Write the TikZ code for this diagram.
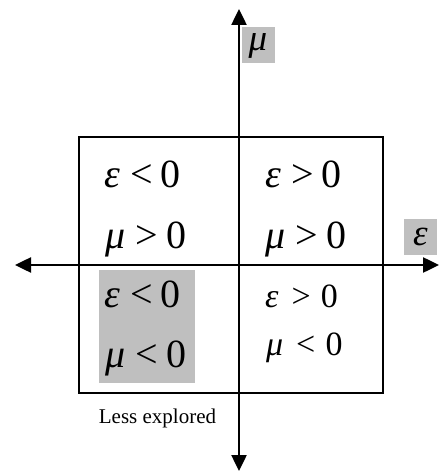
\documentclass[tikz,border=0pt]{standalone}
\usepackage{fontspec}
\setmainfont{Liberation Serif}
\usetikzlibrary{arrows.meta}

\newcommand{\cnd}[3]{\textit{#1}\hspace{0.26em}#2\hspace{0.2em}#3}

\begin{document}
\begin{tikzpicture}[x=1pt, y=-1pt, >={Triangle[length=16pt, width=15pt]},
    cond/.style={anchor=base west, inner sep=0pt, font=\fontsize{40}{46}\selectfont},
    tag/.style={fill=black!25, inner sep=0pt, minimum width=33pt, minimum height=36pt,
                font=\fontsize{37}{40}\selectfont}]
    \useasboundingbox (0,0) rectangle (440,473);
    % shaded quadrant and frame
    \fill[black!25] (99,270) rectangle (195,383);
    \draw[line width=1.5pt] (79,137) rectangle (383,393);
    % axes
    \coordinate (xl) at (15,265);
    \coordinate (xr) at (439,265);
    \coordinate (yt) at (239,9);
    \coordinate (yb) at (239,471);
    \draw[<->, line width=2.5pt] (xl) -- (xr);
    \draw[<->, line width=2.5pt] (yb) -- (yt);
    \node[tag] (mu) at (258,45.5) {\textit{μ}};
    \node[tag] (eps) at (420.5,237) {\textit{ε}};
    % quadrants
    \foreach \n/\x/\y/\a/\r in {tl1/104/187/ε/<, tl2/105/248/μ/>, tr1/265/187/ε/>, tr2/265/248/μ/>,
                                bl1/104/307/ε/<, bl2/105/367/μ/<}
      \node[cond] (\n) at (\x,\y) {\cnd{\a}{\r}{0}};
    \node[cond, font=\fontsize{34}{38}\selectfont] (br1) at (265,307) {\cnd{ε}{\hspace{0.12em}>\hspace{0.1em}}{0}};
    \node[cond, font=\fontsize{34}{38}\selectfont] (br2) at (266,355) {\cnd{μ}{\hspace{0.12em}<\hspace{0.1em}}{0}};
    \node[anchor=base, inner sep=0pt, font=\fontsize{21}{24}\selectfont] (less) at (157.5,423) {Less explored};
\end{tikzpicture}
\end{document}
